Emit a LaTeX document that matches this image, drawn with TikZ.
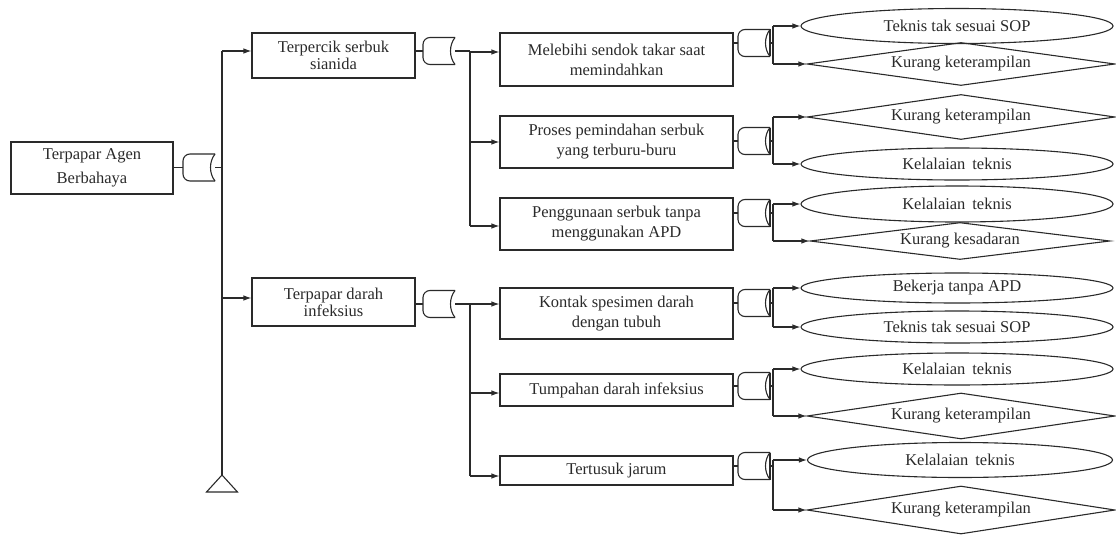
\documentclass[tikz,border=0pt]{standalone}
\usepackage{fontspec}
\setmainfont{Liberation Serif}
\usetikzlibrary{shapes.geometric,arrows.meta}
\definecolor{ink}{HTML}{2A2A2A}

% gate symbol: rounded left end, concave right end
% #1 name, #2 left x, #3 centre y, #4 extra right edge (1 = yes)
\newcommand\drawgate[4]{%
  \begin{scope}[shift={(#2,#3)}]
    \draw[wire, rounded corners=7pt] (32,-13.5) -- (0,-13.5) -- (0,13.5) -- (32,13.5);
    \draw[wire] (32,-13.5) .. controls (26,-6) and (26,6) .. (32,13.5);
    \ifnum#4=1 \draw[wire] (32,-13.5) -- (32,13.5);\fi
    \coordinate (#1-in) at (0,0);
    \coordinate (#1-out) at (32,0);
  \end{scope}}

\begin{document}
\begin{tikzpicture}[x=1pt,y=-1pt,
  txt/.style={font=\fontsize{16.5}{20}\selectfont, text=ink},
  box/.style={txt, draw=ink, line width=1.1pt, rectangle, inner sep=0pt, align=center},
  ell/.style={txt, draw=ink, line width=1.1pt, ellipse, inner sep=0pt,
              minimum width=312pt, minimum height=33pt},
  dia/.style={txt, draw=ink, line width=1.1pt, diamond, shape aspect=7, inner sep=0pt,
              minimum width=308pt, minimum height=44pt},
  wire/.style={draw=ink, line width=1.1pt},
  arr/.style={wire, -{Latex[length=8pt,width=5.5pt]}}]

\useasboundingbox (0,0) rectangle (1116,535);

% ---------- top event ----------
\node[box, minimum width=162pt, minimum height=52pt,
      font=\fontsize{16.5}{24}\selectfont] (root) at (92,168) {Terpapar Agen\\Berbahaya};
\drawgate{g0}{183}{167.5}{0}
\coordinate (bus0) at (222,0);
\coordinate (tri) at (222,475);

% ---------- first level ----------
\node[box, minimum width=163pt, minimum height=45pt,
      font=\fontsize{16.5}{17}\selectfont] (A) at (333.5,55.5) {Terpercik serbuk\\sianida};
\node[box, minimum width=163pt, minimum height=48pt,
      font=\fontsize{16.5}{17}\selectfont] (B) at (333.5,302) {Terpapar darah\\infeksius};
\coordinate (Ain) at ([yshift=4.5pt]A.west);
\coordinate (Bin) at ([yshift=4pt]B.west);

\draw[wire] (root.east |- g0-in) -- (g0-in);
\draw[wire] (g0-out) -- (g0-out -| bus0);
\draw[wire] (Ain -| bus0) -- (tri);
\draw[wire] (tri) -- ++(-15.5,17) -- ++(31,0) -- cycle;
\draw[arr] (Ain -| bus0) -- (Ain);
\draw[arr] (Bin -| bus0) -- (Bin);

% ---------- second level ----------
\node[box, minimum width=233pt, minimum height=53pt] (A1) at (616.5,59.5) {Melebihi sendok takar saat\\memindahkan};
\node[box, minimum width=233pt, minimum height=52pt] (A2) at (616.5,142) {Proses pemindahan serbuk\\yang terburu-buru};
\node[box, minimum width=233pt, minimum height=52pt] (A3) at (616.5,224) {Penggunaan serbuk tanpa\\menggunakan APD};
\node[box, minimum width=233pt, minimum height=51pt] (B1) at (616.5,313.5) {Kontak spesimen darah\\dengan tubuh};
\node[box, minimum width=233pt, minimum height=32pt] (B2) at (616.5,390) {Tumpahan darah infeksius};
\node[box, minimum width=233pt, minimum height=29pt] (B3) at (616.5,470.5) {Tertusuk jarum};

\coordinate (A1in) at ([yshift=7.5pt]A1.west);
\coordinate (A2in) at (A2.west);
\coordinate (A3in) at ([yshift=-2pt]A3.west);
\coordinate (B1in) at ([yshift=9.5pt]B1.west);
\coordinate (B2in) at ([yshift=-3pt]B2.west);
\coordinate (B3in) at ([yshift=-5.5pt]B3.west);

\drawgate{gA}{423}{51}{0}
\drawgate{gB}{423}{304}{0}
\coordinate (busA) at (470,0);

\draw[wire] (gA-in -| A.east) -- (gA-in);
\draw[wire] (gA-out) -- (gA-out -| busA);
\draw[wire] (A1in -| busA) -- (A3in -| busA);
\draw[arr] (A1in -| busA) -- (A1in);
\draw[arr] (A2in -| busA) -- (A2in);
\draw[arr] (A3in -| busA) -- (A3in);

\draw[wire] (gB-in -| B.east) -- (gB-in);
\draw[wire] (gB-out) -- (gB-out -| busA);
\draw[wire] (B1in -| busA) -- (B3in -| busA);
\draw[arr] (B1in -| busA) -- (B1in);
\draw[arr] (B2in -| busA) -- (B2in);
\draw[arr] (B3in -| busA) -- (B3in);

% ---------- basic causes ----------
\node[ell, minimum height=35pt] (a1e) at (957,26) {Teknis tak sesuai SOP};
\node[dia, minimum height=43pt] (a1d) at (961,64) {Kurang keterampilan};
\node[dia, minimum height=45pt] (a2d) at (961,117) {Kurang keterampilan};
\node[ell, minimum height=32pt] (a2e) at (957,164) {Kelalaian\, teknis};
\node[ell, minimum height=36pt] (a3e) at (957,204) {Kelalaian\, teknis};
\node[dia, minimum width=300pt, minimum height=37pt] (a3d) at (960,241) {Kurang kesadaran};
\node[ell, minimum height=30pt] (b1e1) at (957,288) {Bekerja tanpa APD};
\node[ell, minimum height=32pt] (b1e2) at (957,327) {Teknis tak sesuai SOP};
\node[ell, minimum height=32pt] (b2e) at (957,369) {Kelalaian\, teknis};
\node[dia, minimum height=46pt] (b2d) at (961,416) {Kurang keterampilan};
\node[ell, minimum width=305pt, minimum height=35pt] (b3e) at (960,460) {Kelalaian\, teknis};
\node[dia, minimum height=48pt] (b3d) at (961,510) {Kurang keterampilan};

\coordinate (bus3) at (773,0);
\drawgate{gA1}{738}{43}{1}
\drawgate{gA2}{738}{141}{1}
\drawgate{gA3}{738}{213}{1}
\drawgate{gB1}{738}{303}{1}
\drawgate{gB2}{738}{386}{1}
\drawgate{gB3}{738}{466}{1}

\foreach \src/\g/\up/\dn in {A1/gA1/a1e/a1d, A2/gA2/a2d/a2e, A3/gA3/a3e/a3d,
                            B1/gB1/b1e1/b1e2, B2/gB2/b2e/b2d, B3/gB3/b3e/b3d}{
  \draw[wire] (\g-in -| \src.east) -- (\g-in);
  \draw[wire] (\g-out) -- (\g-out -| bus3);
  \draw[wire] (\up.west -| bus3) -- (\dn.west -| bus3);
  \draw[arr] (\up.west -| bus3) -- (\up.west);
  \draw[arr] (\dn.west -| bus3) -- (\dn.west);
}
\end{tikzpicture}
\end{document}
